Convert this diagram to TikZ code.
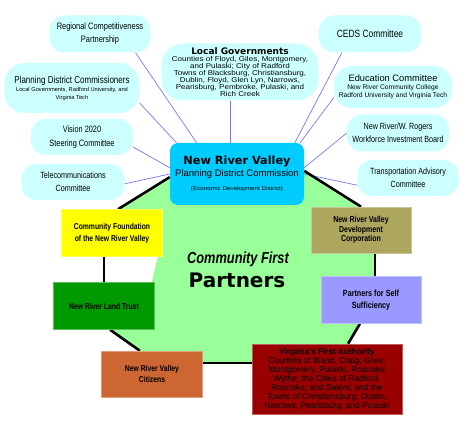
\documentclass[tikz,border=0pt]{standalone}
\usepackage{fontspec}
\setmainfont{Liberation Sans}
\newfontfamily\cond[FakeStretch=0.8]{Liberation Sans}
\newfontfamily\wide[FakeStretch=1.15]{Liberation Sans}
\newfontfamily\heavy{DejaVu Sans}
\usetikzlibrary{positioning,calc,backgrounds}
\newcommand{\fs}[2]{\fontsize{#1}{#2}\selectfont}
\definecolor{bubcol}{RGB}{204,255,255}
\definecolor{pdccol}{RGB}{0,204,255}
\definecolor{ringcol}{RGB}{153,255,153}
\definecolor{spokecol}{RGB}{120,120,240}
\definecolor{cfcol}{RGB}{255,255,0}
\definecolor{ltcol}{RGB}{0,153,0}
\definecolor{dccol}{RGB}{173,166,95}
\definecolor{psscol}{RGB}{153,153,255}
\definecolor{citcol}{RGB}{204,102,51}
\definecolor{vfacol}{RGB}{153,0,0}
\tikzset{
  bub/.style={fill=bubcol,rounded corners=15pt,align=center,inner sep=0pt,
    minimum width=101pt,minimum height=37pt,font=\cond\fs{9}{13}},
  partner/.style={fill=#1,draw=#1!65!white,line width=0.6pt,align=center,inner sep=0pt,
    minimum width=101pt,minimum height=47pt,font=\cond\bfseries\fs{8.5}{11.7}},
  spoke/.style={spokecol,line width=0.7pt},
  link/.style={black,line width=2.6pt},
}

\begin{document}
\begin{tikzpicture}[x=1pt,y=-1pt]
	\useasboundingbox (0,0) rectangle (472,435);

	% committees round the commission
	\node[bub,font=\cond\fs{9.3}{13}] at (100,34) (rcp) {Regional Competitiveness\\Partnership};
	\node[bub,minimum width=135pt,minimum height=50pt,rounded corners=20pt,font=\rmfamily\fs{5.7}{8}] at (72,88) (pdcc)
		{{\cond\fs{10}{8}Planning District Commissioners}\\Local Governments, Radford University, and\\Virginia Tech};
	\node[bub,minimum width=157pt,minimum height=57pt,rounded corners=22pt,font=\wide\fs{7}{6.9}] at (240,72) (lg)
		{{\heavy\bfseries\fs{9}{10}Local Governments}\\Counties of Floyd, Giles, Montgomery,\\and Pulaski; City of Radford\\
		Towns of Blacksburg, Christiansburg,\\Dublin, Floyd, Glen Lyn, Narrows,\\Pearisburg, Pembroke, Pulaski, and\\Rich Creek};
	\node[bub,minimum width=102pt,font=\cond\fs{10.5}{13}] at (370,34) (ceds) {CEDS Committee};
	\node[bub,minimum width=118pt,minimum height=42pt,rounded corners=18pt,font=\rmfamily\fs{6.7}{8.3}] at (393,87) (edu)
		{{\fs{9.3}{10}Education Committee}\\New River Community College\\Radford University and Virginia Tech};
	\node[bub,minimum width=102pt] at (398,133) (wib) {New River/W. Rogers\\Workforce Investment Board};
	\node[bub,minimum height=36pt] at (408,178) (tac) {Transportation Advisory\\Committee};
	\node[bub,minimum width=102pt,minimum height=36pt,font=\cond\fs{9.2}{14}] at (82,137) (vis) {Vision 2020\\Steering Committee};
	\node[bub,minimum width=103pt,minimum height=36pt] at (73,182) (tel) {Telecommunications\\Committee};

	\node[fill=pdccol,rounded corners=8pt,minimum width=134pt,minimum height=62pt,align=center,inner sep=0pt,
		font=\rmfamily\fs{9.5}{12}] at (237,174) (pdc)
		{{\heavy\bfseries\fs{11.3}{12}New River Valley}\\Planning District Commission\\[2pt]{\wide\fs{5.5}{7}(Economic Development District)}};

	% community first partners
	\node[font=\cond\bfseries\itshape\fs{16}{18}] at (238,259) (cfirst) {Community First};
	\node[font=\heavy\bfseries\fs{20}{22}] at (237,280) (partners) {Partners};

	\node[partner=cfcol] at (112,233) (cf) {Community Foundation\\of the New River Valley};
	\node[partner=ltcol] at (104,306) (lt) {New River Land Trust};
	\node[partner=dccol,minimum width=100pt,minimum height=46pt,font=\cond\bfseries\fs{8.7}{9.5}] at (361,230) (dc)
		{New River Valley\\Development\\Corporation};
	\node[partner=psscol,minimum width=100pt,font=\cond\bfseries\fs{9}{12}] at (371,300) (pss) {Partners for Self\\Sufficiency};
	\node[partner=citcol,minimum height=46pt] at (152,374) (cit) {New River Valley\\Citizens};
	\node[partner=vfacol,minimum width=150pt,minimum height=70pt,font=\rmfamily\fs{8.4}{9}] at (327,379) (vfa)
		{{\bfseries\fs{8.2}{9}Virginia's First Authority}\\Counties of Bland, Craig, Giles,\\Montgomery, Pulaski, Roanoke\\
		Wythe; the Cities of Radford,\\Roanoke, and Salem; and the\\Towns of Christiansburg, Dublin,\\Narrows, Pearisburg, and Pulaski};

	\begin{scope}[on background layer]
		\fill[ringcol] (172,178) -- (118,210) -- (160,215) -- (158,256) -- (150,290) -- (110,329) -- (140,351)
			-- (203,363) -- (252,363) -- (348,344) -- (360,323) -- (373,290) -- (375,253) -- (360,208) -- (303,172) -- cycle;

		\draw[spoke] ($(rcp.south)!0.7!(rcp.south east)$) -- ($(pdc.north west)!0.2!(pdc.north east)$);
		\draw[spoke] ($(pdcc.east)!0.6!(pdcc.south east)$) -- ($(pdc.north west)!0.05!(pdc.north east)$);
		\draw[spoke] ($(lg.south)!0.12!(lg.south west)$) coordinate (l) -- (l |- pdc.north);
		\draw[spoke] ($(ceds.south)!0.55!(ceds.south west)$) -- ($(pdc.north east)!0.07!(pdc.north west)$);
		\draw[spoke] ($(edu.west)!0.5!(edu.south west)$) -- ($(pdc.north east)!0.03!(pdc.north west)$);
		\draw[spoke] (wib.west) -- ($(pdc.east)!0.2!(pdc.north east)$);
		\draw[spoke] ($(tac.west)!0.4!(tac.south west)$) -- (pdc.east);
		\draw[spoke] ($(vis.east)!0.55!(vis.south east)$) -- ($(pdc.west)!0.2!(pdc.north west)$);
		\draw[spoke] ($(tel.east)!0.1!(tel.south east)$) -- (pdc.west);

		\draw[link] ($(pdc.west)!0.1!(pdc.south west)$) -- ($(cf.north)!0.12!(cf.north east)$);
		\draw[link] (lt.north) -- (lt.north |- cf.south);
		\draw[link] ($(lt.south)!0.12!(lt.south east)$) -- ($(cit.north)!0.24!(cit.north west)$);
		\draw[link] ($(cit.east)!0.47!(cit.north east)$) coordinate (c) -- (c -| vfa.west);
		\draw[link] ($(vfa.north)!0.28!(vfa.north east)$) -- ($(pss.south)!0.22!(pss.south west)$);
		\draw[link] ($(dc.south)!0.28!(dc.south east)$) coordinate (d) -- (d |- pss.north);
		\draw[link] (dc.north) -- ($(pdc.east)!0.1!(pdc.north east)$);
	\end{scope}

\end{tikzpicture}
\end{document}
